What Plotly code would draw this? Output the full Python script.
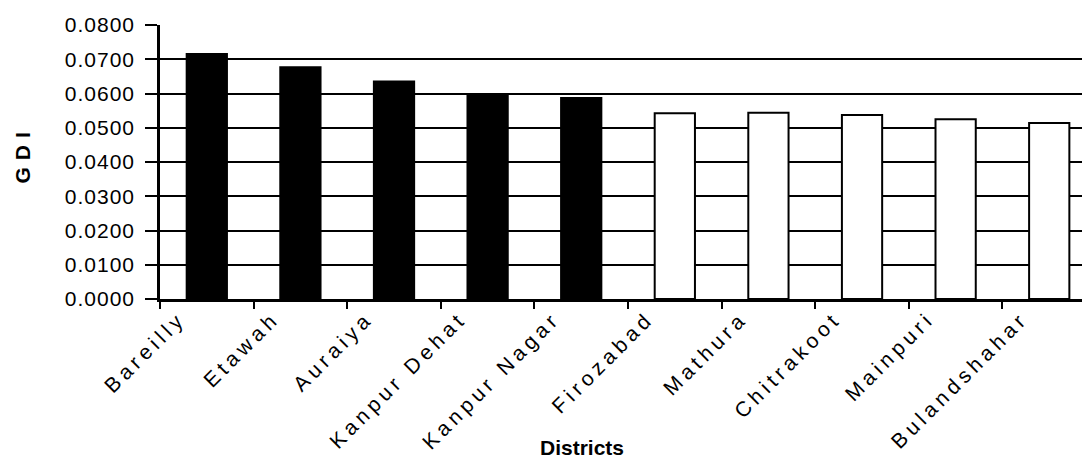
import plotly.graph_objects as go

districts = ["Bareilly", "Etawah", "Auraiya", "Kanpur Dehat", "Kanpur Nagar",
             "Firozabad", "Mathura", "Chitrakoot", "Mainpuri", "Bulandshahar"]
gdi = [0.0715, 0.0677, 0.0635, 0.0598, 0.0587,
       0.0542, 0.0544, 0.0537, 0.0525, 0.0514]
bar_colors = ["#000000"] * 5 + ["#ffffff"] * 5
y_ticks = [0.0, 0.01, 0.02, 0.03, 0.04, 0.05, 0.06, 0.07, 0.08]

W, H = 1082, 461
ML, MT, MB = 160, 25, 162
PH = H - MT - MB

fig = go.Figure()
fig.add_trace(go.Bar(
    x=districts, y=gdi, width=0.43,
    marker=dict(color=bar_colors, line=dict(color="#000000", width=2)),
))

fig.update_layout(
    width=W, height=H,
    margin=dict(l=ML, r=0, t=MT, b=MB, pad=0),
    paper_bgcolor="white", plot_bgcolor="white",
    showlegend=False,
    font=dict(family="Liberation Sans, Arial, sans-serif", color="#000000"),
    xaxis=dict(
        type="category", range=[-0.5, 9.35],
        tickson="boundaries", ticks="outside", ticklen=7, tickwidth=2,
        tickcolor="#000000",
        showline=True, linecolor="#000000", linewidth=3,
        showgrid=False, tickangle=-45,
        tickfont=dict(size=21), ticklabelshift=-27, ticklabelstandoff=-4,
    ),
    yaxis=dict(
        range=[0, 0.08], tickvals=y_ticks, tickformat=".4f",
        ticks="outside", ticklen=12, tickwidth=2, tickcolor="#000000",
        showline=True, linecolor="#000000", linewidth=2.5,
        showgrid=True, gridcolor="#000000", gridwidth=1.6,
        zeroline=False, tickfont=dict(size=21), ticklabelstandoff=6,
    ),
    annotations=[
        dict(
            text="<b>Districts</b>", xref="paper", yref="paper",
            x=(582 - ML) / (W - ML), y=-(447 - (H - MB)) / PH,
            xanchor="center", yanchor="middle", showarrow=False,
            font=dict(size=21),
        ),
        dict(
            text="<b>GDI</b>", xref="paper", yref="paper",
            x=(22 - ML) / (W - ML), y=((H - MB) - 155) / PH,
            xanchor="center", yanchor="middle", showarrow=False,
            textangle=-90, font=dict(size=21),
        ),
    ],
)

post = """
document.body.style.margin = '0';
document.documentElement.style.overflow = 'hidden';
var gd = document.getElementById('{plot_id}');
gd.querySelectorAll('.xtick text').forEach(function(t){ t.style.letterSpacing = '4.5px'; });
gd.querySelectorAll('.ytick text').forEach(function(t){ t.style.letterSpacing = '1px'; });
gd.querySelectorAll('.annotation-text').forEach(function(t){
  if (t.textContent === 'GDI') { t.style.letterSpacing = '7px'; }
});
"""

fig.write_html("out.html", post_script=post, config={"displayModeBar": False})
